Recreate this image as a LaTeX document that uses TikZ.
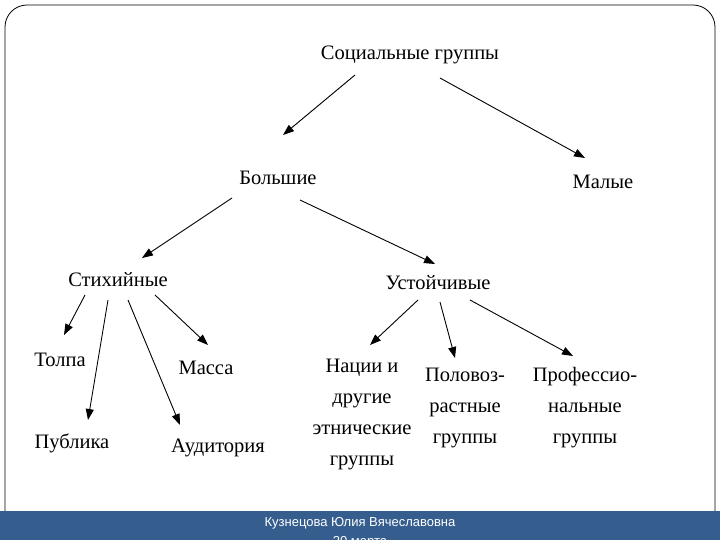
\documentclass[tikz,border=0pt]{standalone}
\usepackage{fontspec}
\setmainfont{Liberation Serif}
\newfontfamily\footfont{Liberation Sans}
\usetikzlibrary{arrows.meta}
\definecolor{barblue}{HTML}{355E8E}
\begin{document}
\begin{tikzpicture}[x=1pt,y=-1pt,
  lbl/.style={font=\fontsize{20.5}{31}\selectfont, align=center, inner sep=1pt},
  arr/.style={-{Triangle[length=11pt,width=8pt]}, line width=0.9pt}]
\useasboundingbox (0,0) rectangle (720,540);
\fill[white] (0,0) rectangle (720,540);
\draw[line width=0.8pt, rounded corners=22pt] (5,520) -- (5,5) -- (715,5) -- (715,520);
\fill[barblue] (0,511) rectangle (720,540);
\node[font=\footfont\fontsize{13}{19}\selectfont, text=white, align=center, anchor=north] (foot) at (360,514) {Кузнецова Юлия Вячеславовна\\20 марта};
\node[lbl] (soc) at (410,55) {Социальные группы};
\node[lbl] (big) at (278,178) {Большие};
\node[lbl] (small) at (603,182) {Малые};
\node[lbl] (stix) at (118,280) {Стихийные};
\node[lbl] (ust) at (438,283) {Устойчивые};
\node[lbl] (tolpa) at (60,360) {Толпа};
\node[lbl] (massa) at (206,368) {Масса};
\node[lbl] (publ) at (72,443) {Публика};
\node[lbl] (aud) at (218,448) {Аудитория};
\node[lbl] (nat) at (362,414) {Нации и\\другие\\этнические\\группы};
\node[lbl] (pol) at (465,408) {Половоз-\\растные\\группы};
\node[lbl] (prof) at (585,408) {Профессио-\\нальные\\группы};
\coordinate (a1) at (355,75); \coordinate (b1) at (283,135);
\coordinate (a2) at (440,78); \coordinate (b2) at (585,158);
\coordinate (a3) at (232,198); \coordinate (b3) at (142,258);
\coordinate (a4) at (300,200); \coordinate (b4) at (435,264);
\coordinate (a5) at (85,295); \coordinate (b5) at (64,335);
\coordinate (a6) at (108,300); \coordinate (b6) at (88,420);
\coordinate (a7) at (128,300); \coordinate (b7) at (180,425);
\coordinate (a8) at (155,295); \coordinate (b8) at (208,345);
\coordinate (a9) at (418,300); \coordinate (b9) at (370,345);
\coordinate (a10) at (440,302); \coordinate (b10) at (455,358);
\coordinate (a11) at (470,300); \coordinate (b11) at (573,356);
\foreach \i in {1,...,11} \draw[arr] (a\i) -- (b\i);
\end{tikzpicture}
\end{document}
